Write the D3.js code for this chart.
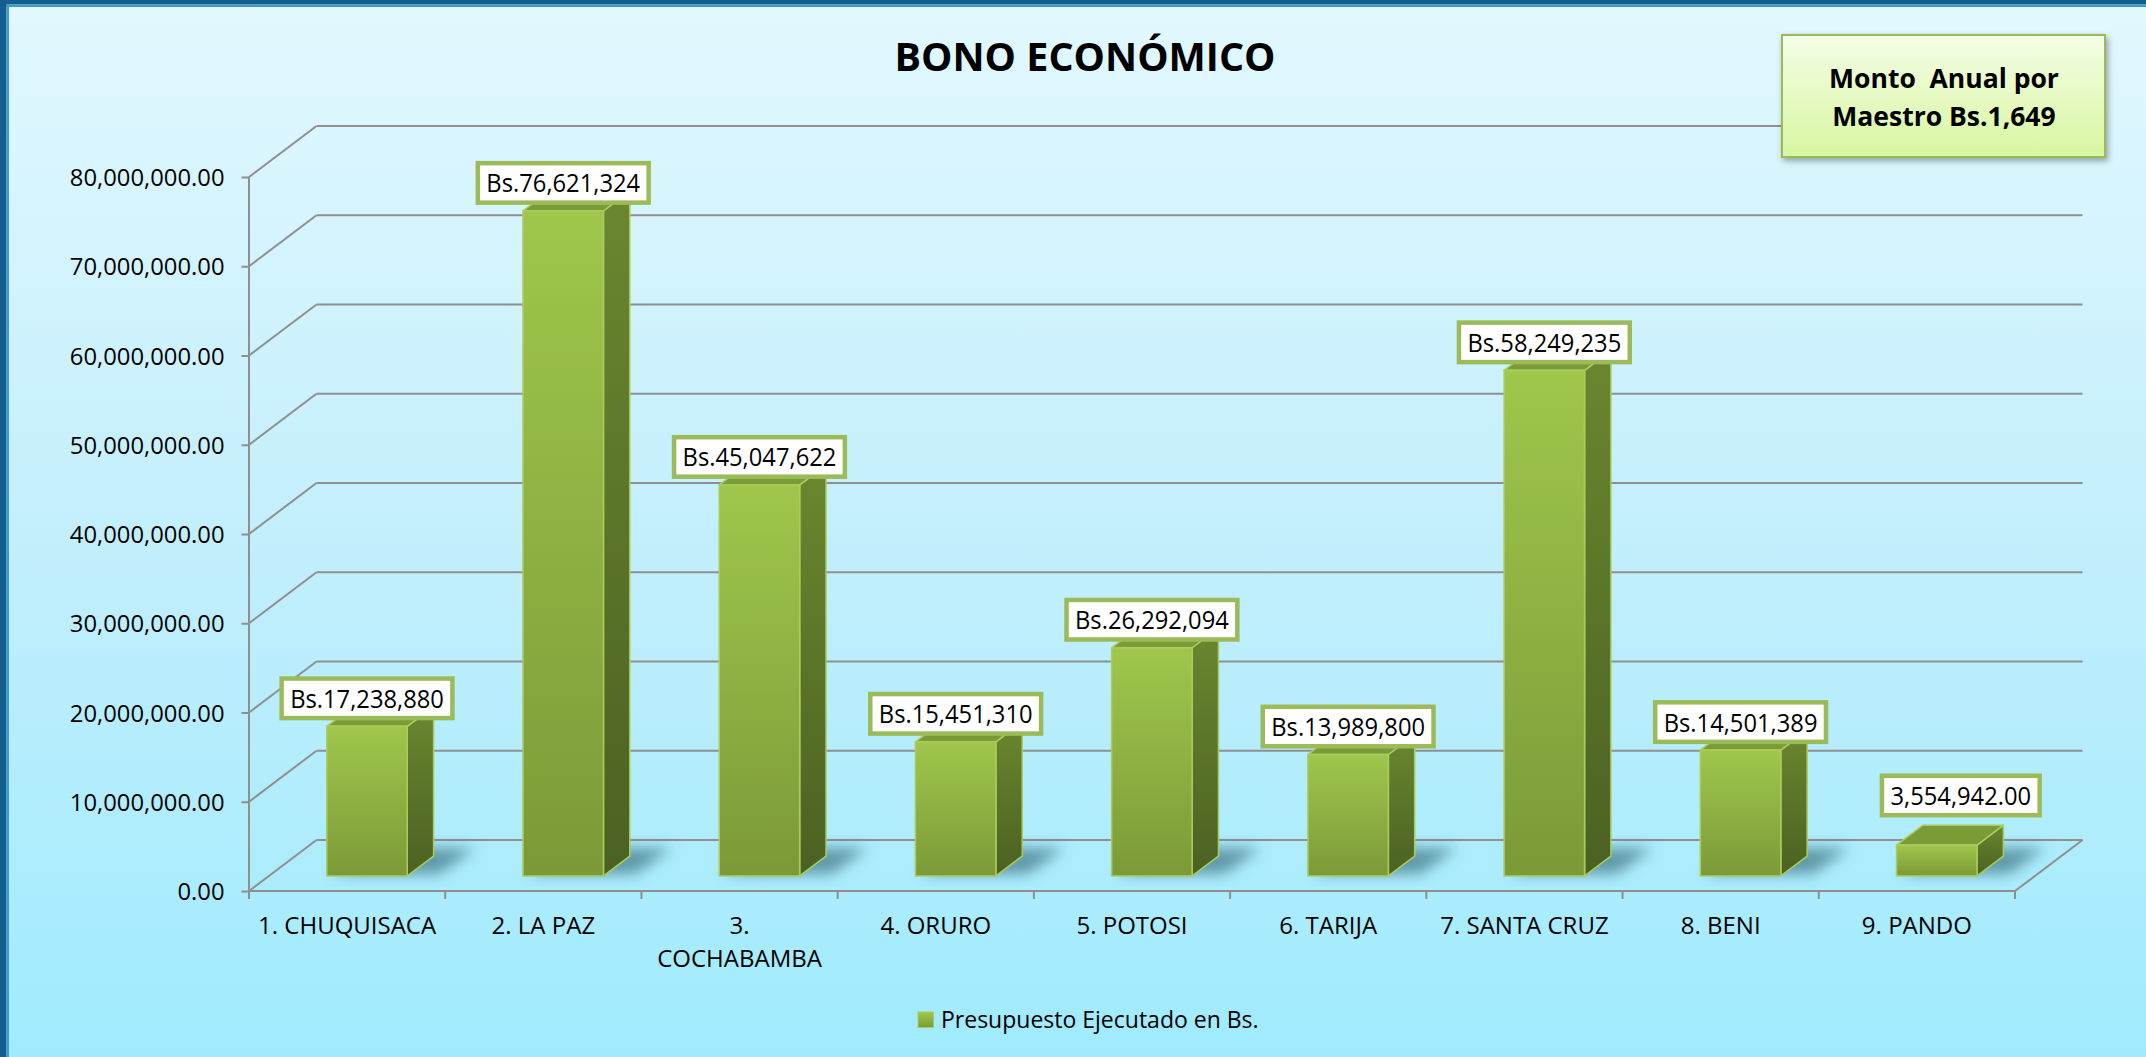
<!DOCTYPE html>
<html>
<head>
<meta charset="utf-8">
<script src="https://cdn.jsdelivr.net/npm/d3@7"></script>
<style>
  html, body { margin: 0; padding: 0; background: #fff; }
  svg { display: block; }
  text { font-family: "Open Sans", "Noto Sans", sans-serif; fill: #000; }
</style>
</head>
<body>
<svg id="chart" width="2146" height="1057"></svg>
<script>
// ---- data ----
const categories = ["1. CHUQUISACA", "2. LA PAZ", "3. COCHABAMBA", "4. ORURO", "5. POTOSI",
                    "6. TARIJA", "7. SANTA CRUZ", "8. BENI", "9. PANDO"];
const values = [17238880, 76621324, 45047622, 15451310, 26292094,
                13989800, 58249235, 14501389, 3554942];
// how each value label is written: "bs" = Bs. prefix, no decimals; "plain" = two decimals
const labelFormats = ["bs", "bs", "bs", "bs", "bs", "bs", "bs", "bs", "plain"];
const yTicks = [0, 10e6, 20e6, 30e6, 40e6, 50e6, 60e6, 70e6, 80e6];
const titleText = "BONO ECONÓMICO";
const noteLines = ["Monto  Anual por", "Maestro Bs.1,649"];
const seriesName = "Presupuesto Ejecutado en Bs.";

// ---- layout ----
const W = 2146, H = 1057;
const plot = { left: 249, right: 2015, bottom: 891, top: 177 };
const DX = 67.5, DY = 51;            // oblique depth of the floor / walls
const barFront = 0.295, barDepth = 0.39; // bar position inside the depth
const barWidthFrac = 0.41;

const svg = d3.select("#chart");
const defs = svg.append("defs");

// background gradient
const bg = defs.append("linearGradient").attr("id", "bg").attr("x1", 0).attr("y1", 0).attr("x2", 0).attr("y2", 1);
bg.append("stop").attr("offset", "0%").attr("stop-color", "#e2f8fe");
bg.append("stop").attr("offset", "55%").attr("stop-color", "#c0eefc");
bg.append("stop").attr("offset", "100%").attr("stop-color", "#9febfd");

// bar face gradients
const gFront = defs.append("linearGradient").attr("id", "gFront").attr("x1", 0).attr("y1", 0).attr("x2", 0).attr("y2", 1);
gFront.append("stop").attr("offset", "0%").attr("stop-color", "#a0c64c");
gFront.append("stop").attr("offset", "100%").attr("stop-color", "#7b9a37");
const gSide = defs.append("linearGradient").attr("id", "gSide").attr("x1", 0).attr("y1", 0).attr("x2", 0).attr("y2", 1);
gSide.append("stop").attr("offset", "0%").attr("stop-color", "#6a872f");
gSide.append("stop").attr("offset", "100%").attr("stop-color", "#4b6122");
const gNote = defs.append("linearGradient").attr("id", "gNote").attr("x1", 0).attr("y1", 0).attr("x2", 0).attr("y2", 1);
gNote.append("stop").attr("offset", "0%").attr("stop-color", "#f4fde6");
gNote.append("stop").attr("offset", "100%").attr("stop-color", "#d8f6a0");

const blur = defs.append("filter").attr("id", "soft").attr("x", "-50%").attr("y", "-50%").attr("width", "200%").attr("height", "200%");
blur.append("feGaussianBlur").attr("stdDeviation", 7);
const drop = defs.append("filter").attr("id", "drop").attr("x", "-10%").attr("y", "-10%").attr("width", "130%").attr("height", "140%");
drop.append("feDropShadow").attr("dx", 2).attr("dy", 3).attr("stdDeviation", 3).attr("flood-color", "#000").attr("flood-opacity", 0.35);

svg.append("rect").attr("width", W).attr("height", H).attr("fill", "url(#bg)");
// frame along the top and left edges
svg.append("rect").attr("x", 0).attr("y", 0).attr("width", W).attr("height", 4.5).attr("fill", "#135e8f");
svg.append("rect").attr("x", 0).attr("y", 4.5).attr("width", W).attr("height", 2.5).attr("fill", "#3d9ccc");
svg.append("rect").attr("x", 0).attr("y", 0).attr("width", 6.5).attr("height", H).attr("fill", "#135e8f");
svg.append("rect").attr("x", 6.5).attr("y", 4.5).attr("width", 2.5).attr("height", H).attr("fill", "#3d9ccc");

// ---- scales ----
const x = d3.scaleBand().domain(categories).range([plot.left, plot.right]).paddingInner(0).paddingOuter(0);
const y = d3.scaleLinear().domain([0, 80e6]).range([plot.bottom, plot.top]);
// bar heights sit slightly further back, so they are drawn a little shorter
const barH = d3.scaleLinear().domain([0, 80e6]).range([0, 694.4]);

const gridColor = "#8f8f8f";
const grid = svg.append("g").attr("stroke", gridColor).attr("stroke-width", 2).attr("fill", "none");

// back wall gridlines + left wall diagonals
yTicks.forEach(t => {
  const yy = y(t);
  grid.append("line").attr("x1", plot.left).attr("y1", yy).attr("x2", plot.left + DX).attr("y2", yy - DY);
  grid.append("line").attr("x1", plot.left + DX).attr("y1", yy - DY).attr("x2", plot.right + DX).attr("y2", yy - DY);
});
// floor front edge and right edge
grid.append("line").attr("x1", plot.left).attr("y1", plot.bottom).attr("x2", plot.right).attr("y2", plot.bottom);
grid.append("line").attr("x1", plot.right).attr("y1", plot.bottom).attr("x2", plot.right + DX).attr("y2", plot.bottom - DY);

// value axis (front)
const yAxis = d3.axisLeft(y).tickValues(yTicks).tickSize(7.5).tickPadding(17)
  .tickFormat(d3.format(",.2f"));
const yAxisG = svg.append("g").attr("transform", `translate(${plot.left},0)`).call(yAxis);
yAxisG.select(".domain").remove();
yAxisG.selectAll(".tick line").attr("stroke", gridColor).attr("stroke-width", 2);
yAxisG.selectAll(".tick text").attr("font-size", 23.8).attr("font-family", "Open Sans").attr("fill", "#000").attr("dy", "0.36em");
svg.append("line").attr("x1", plot.left).attr("y1", plot.top).attr("x2", plot.left).attr("y2", plot.bottom + 8)
  .attr("stroke", gridColor).attr("stroke-width", 2);

// category axis (front)
const xAxis = d3.axisBottom(x).tickSize(0).tickPadding(0);
const xAxisG = svg.append("g").attr("transform", `translate(0,${plot.bottom})`).call(xAxis);
xAxisG.select(".domain").remove();
xAxisG.selectAll(".tick line").remove();
xAxisG.selectAll(".tick text").attr("font-size", 24).attr("font-family", "Open Sans").attr("fill", "#000")
  .attr("y", 43).attr("dy", 0)
  .each(function (d) {
    // greedy wrap inside the band
    const t = d3.select(this);
    const words = d.split(" ");
    t.text(null);
    let line = [];
    let ts = t.append("tspan").attr("x", 0).attr("dy", 0);
    words.forEach(w => {
      line.push(w);
      ts.text(line.join(" "));
      if (ts.node().getComputedTextLength() > 185 && line.length > 1) {
        line.pop();
        ts.text(line.join(" "));
        line = [w];
        ts = t.append("tspan").attr("x", 0).attr("dy", 33).text(w);
      }
    });
  });
// category tick marks between bands
const bandEdges = categories.map(c => x(c)).concat([plot.right]);
svg.append("g").selectAll("line").data(bandEdges).join("line")
  .attr("x1", d => d).attr("x2", d => d).attr("y1", plot.bottom).attr("y2", plot.bottom + 8)
  .attr("stroke", gridColor).attr("stroke-width", 2);

// ---- bars ----
const bw = x.bandwidth();
const fw = bw * barWidthFrac;
const offX = DX * barFront, offY = DY * barFront;
const ddx = DX * barDepth, ddy = DY * barDepth;
const bars = categories.map((c, i) => {
  const x0 = x(c) + offX + (bw - fw) / 2;
  const yBot = plot.bottom - offY;
  const yTop = yBot - barH(values[i]);
  return { c, v: values[i], fmt: labelFormats[i], x0, yBot, yTop };
});

// soft floor shadows
svg.append("g").attr("filter", "url(#soft)").selectAll("path").data(bars).join("path")
  .attr("d", b => {
    const sx = b.x0 + 6, sy = b.yBot - 2;
    return `M${sx},${sy} L${sx + fw + 26},${sy} L${sx + fw + 26 + ddx + 10},${sy - ddy - 6} L${sx + ddx + 10},${sy - ddy - 6} Z`;
  })
  .attr("fill", "#2f5f72").attr("opacity", 0.6);

const edge = "#a9cc5e";
const barG = svg.append("g").selectAll("g").data(bars).join("g");
barG.append("path").attr("d", b =>
    `M${b.x0 + fw},${b.yTop} L${b.x0 + fw + ddx},${b.yTop - ddy} L${b.x0 + fw + ddx},${b.yBot - ddy} L${b.x0 + fw},${b.yBot} Z`)
  .attr("fill", "url(#gSide)").attr("stroke", edge).attr("stroke-width", 1.5).attr("stroke-linejoin", "round");
barG.append("path").attr("d", b =>
    `M${b.x0},${b.yTop} L${b.x0 + ddx},${b.yTop - ddy} L${b.x0 + fw + ddx},${b.yTop - ddy} L${b.x0 + fw},${b.yTop} Z`)
  .attr("fill", "#7b9b37").attr("stroke", edge).attr("stroke-width", 1.5).attr("stroke-linejoin", "round");
barG.append("rect").attr("x", b => b.x0).attr("y", b => b.yTop).attr("width", fw).attr("height", b => b.yBot - b.yTop)
  .attr("fill", "url(#gFront)").attr("stroke", edge).attr("stroke-width", 1.5);

// ---- value labels ----
const fmtBs = v => "Bs." + d3.format(",")(v);
const fmtPlain = d3.format(",.2f");
const pandoShift = { dx: 24, dy: -21.6 }; // the low last bar carries its label higher and to the right
const labelG = svg.append("g").selectAll("g").data(bars).join("g");
labelG.each(function (b) {
  const g = d3.select(this);
  const txt = b.fmt === "bs" ? fmtBs(b.v) : fmtPlain(b.v);
  const shift = b.fmt === "plain" ? pandoShift : { dx: 0, dy: 0 };
  const cx = b.x0 + fw / 2 + shift.dx;
  const bottom = b.yTop - 6 + shift.dy;
  const boxH = 44;
  const rect = g.append("rect");
  const t = g.append("text").attr("font-size", 25).attr("text-anchor", "middle").text(txt);
  const sx = 0.95;
  t.attr("transform", `translate(${cx},${bottom - boxH / 2 + 9.5}) scale(${sx},1)`);
  const tw = t.node().getComputedTextLength() * sx;
  const boxW = tw + 21.5;
  rect.attr("x", cx - boxW / 2 + 2.25).attr("y", bottom - boxH + 2.25)
    .attr("width", boxW - 4.5).attr("height", boxH - 4.5)
    .attr("fill", "#fff").attr("stroke", "#9bbb59").attr("stroke-width", 4.5);
});

// ---- title ----
svg.append("text").attr("x", 1085).attr("y", 70.7).attr("text-anchor", "middle")
  .attr("font-size", 39.5).attr("font-weight", 700).text(titleText);

// ---- note box ----
const note = svg.append("g");
note.append("rect").attr("x", 1782).attr("y", 35).attr("width", 323).attr("height", 122)
  .attr("fill", "url(#gNote)").attr("stroke", "#9bbb59").attr("stroke-width", 2).attr("filter", "url(#drop)");
note.selectAll("text").data(noteLines).join("text")
  .attr("x", 1944).attr("y", (d, i) => 88.3 + i * 37.7).attr("text-anchor", "middle")
  .attr("font-size", 26.5).attr("font-weight", 700).style("white-space", "pre").text(d => d);

// ---- legend ----
const leg = svg.append("g").attr("transform", "translate(918,1012)");
leg.append("rect").attr("width", 15.5).attr("height", 15.5).attr("fill", "url(#gFront)").attr("stroke", edge).attr("stroke-width", 1);
leg.append("text").attr("x", 23).attr("y", 15.5).attr("font-size", 23).text(seriesName);
</script>
</body>
</html>
